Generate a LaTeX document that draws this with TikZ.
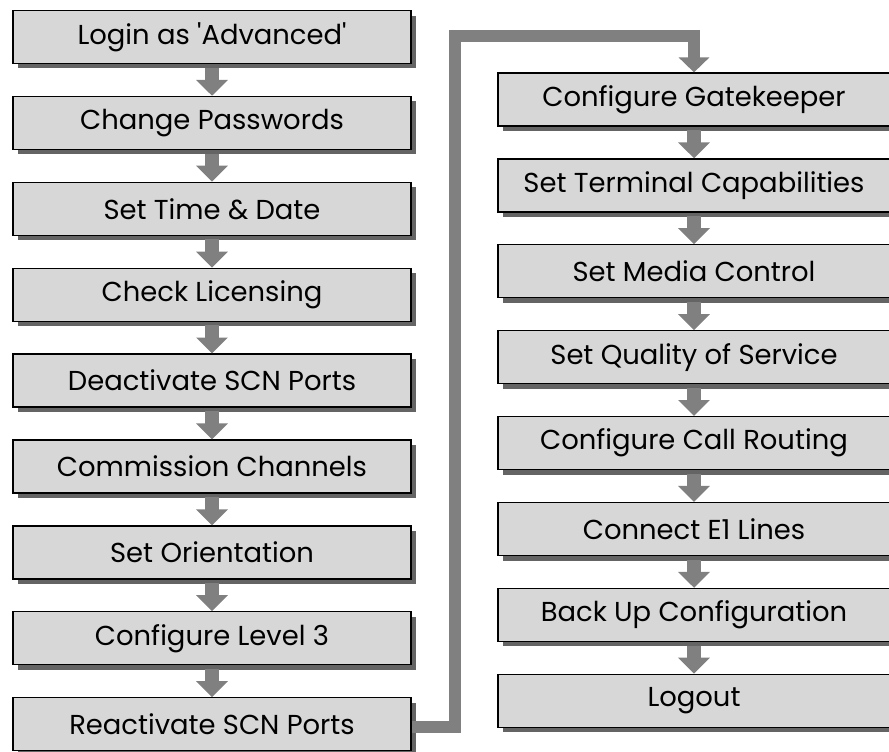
\documentclass[tikz,border=0pt]{standalone}
\usepackage{fontspec}
\setmainfont{Poppins}
\usetikzlibrary{arrows.meta,shadows}
\definecolor{boxfill}{RGB}{215,215,215}
\definecolor{boxshade}{RGB}{100,100,100}
\definecolor{flowgray}{RGB}{128,128,128}

\begin{document}
\begin{tikzpicture}[
  x=0.02cm,y=-0.02cm,
  stepbox/.style={rectangle,draw=black,fill=boxfill,line width=0.7pt,
                  minimum height=1.06cm,inner sep=0pt,font=\fontsize{15.6}{18}\selectfont,
                  drop shadow={shadow xshift=0.1cm,shadow yshift=-0.1cm,
                               fill=boxshade,opacity=1}},
  leftbox/.style={stepbox,minimum width=7.96cm},
  rightbox/.style={stepbox,minimum width=7.84cm},
  flow/.style={draw=flowgray,line width=0.28cm,
               -{Triangle[length=0.32cm,width=0.62cm]}},
  jump/.style={draw=flowgray,line width=0.24cm,
               -{Triangle[length=0.3cm,width=0.6cm]}}
]
\useasboundingbox (0,0) rectangle (889,751);
\clip (0,0) rectangle (889,751);

\coordinate (turn) at (455,35.5);

% left column
\node[leftbox] (login)  at (212,37)    {Login as \textquotesingle Advanced\textquotesingle};
\node[leftbox] (pass)   at (212,122.9) {Change Passwords};
\node[leftbox] (time)   at (212,208.8) {Set Time \& Date};
\node[leftbox] (lic)    at (212,294.7) {Check Licensing};
\node[leftbox] (deact)  at (212,380.6) {Deactivate SCN Ports};
\node[leftbox] (comm)   at (212,466.5) {Commission Channels};
\node[leftbox] (orient) at (212,552.4) {Set Orientation};
\node[leftbox] (level)  at (212,638.3) {Configure Level 3};
\node[leftbox] (react)  at (212,724.2) {Reactivate SCN Ports};
% right column
\node[rightbox] (gate)  at (694,99.5)  {Configure Gatekeeper};
\node[rightbox] (term)  at (694,185.4) {Set Terminal Capabilities};
\node[rightbox] (media) at (694,271.3) {Set Media Control};
\node[rightbox] (qos)   at (694,357.2) {Set Quality of Service};
\node[rightbox] (route) at (694,443.1) {Configure Call Routing};
\node[rightbox] (lines) at (694,529)   {Connect E1 Lines};
\node[rightbox] (backup) at (694,614.9) {Back Up Configuration};
\node[rightbox] (logout) at (694,700.8) {Logout};

\draw[flow] ([yshift=-2pt]login.south) -- (pass.north);
\draw[flow] ([yshift=-2pt]pass.south)  -- (time.north);
\draw[flow] ([yshift=-2pt]time.south)  -- (lic.north);
\draw[flow] ([yshift=-2pt]lic.south)   -- (deact.north);
\draw[flow] ([yshift=-2pt]deact.south) -- (comm.north);
\draw[flow] ([yshift=-2pt]comm.south)  -- (orient.north);
\draw[flow] ([yshift=-2pt]orient.south) -- (level.north);
\draw[flow] ([yshift=-2pt]level.south) -- (react.north);

\draw[flow] ([yshift=-2pt]gate.south)  -- (term.north);
\draw[flow] ([yshift=-2pt]term.south)  -- (media.north);
\draw[flow] ([yshift=-2pt]media.south) -- (qos.north);
\draw[flow] ([yshift=-2pt]qos.south)   -- (route.north);
\draw[flow] ([yshift=-2pt]route.south) -- (lines.north);
\draw[flow] ([yshift=-2pt]lines.south) -- (backup.north);
\draw[flow] ([yshift=-2pt]backup.south) -- (logout.north);

% long hop over to the second column
\draw[jump] ([yshift=-0.06cm]react.east) -| (turn) -| (gate.north);
\end{tikzpicture}
\end{document}
